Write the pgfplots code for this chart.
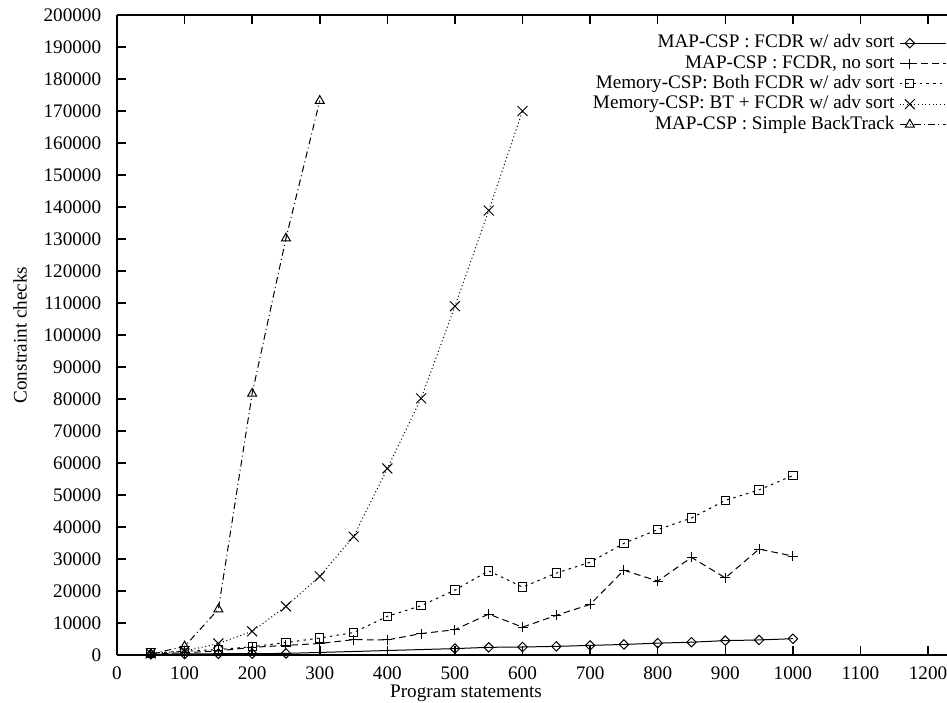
\documentclass[border=0pt]{standalone}
\usepackage{fontspec}
\setmainfont{Liberation Serif}
\usepackage{pgfplots}
\pgfplotsset{compat=1.18}
\begin{document}
\fontsize{11.5pt}{13pt}\selectfont
\begin{tikzpicture}
\begin{axis}[
  scale only axis, width=498pt, height=384pt,
  at={(0,0)}, anchor=south west,
  xmin=0, xmax=1228, ymin=0, ymax=200000,
  axis x line*=box, axis y line*=left,
  y axis line style={-},
  xtick={0,100,...,1200}, ytick={0,10000,...,200000},
  xtick pos=both, ytick pos=left,
  tick align=inside, major tick length=5.4pt,
  every tick/.style={black, line width=0.9pt},
  axis line style={line width=1pt},
  scaled y ticks=false, scaled x ticks=false,
  /pgf/number format/assume math mode=true,
  /pgf/number format/fixed, /pgf/number format/1000 sep={},
  tick label style={font=\fontsize{11.5pt}{13pt}\selectfont},
  yticklabel style={xshift=-5.5pt},
  xticklabel style={yshift=-2.8pt},
  xlabel={Program statements},
  ylabel={Constraint checks},
  xlabel style={at={(axis description cs:0.4205,0)}, anchor=base, yshift=-25.6pt, font=\fontsize{11.5pt}{13pt}\selectfont},
  ylabel style={at={(axis description cs:-0.1169,0.5)}, anchor=center, font=\fontsize{11.5pt}{13pt}\selectfont},
  legend style={draw=none, fill=none, at={(1,1)}, anchor=north east, yshift=-10.8pt,
    inner sep=0pt, outer sep=0pt, row sep=0pt, column sep=2.4pt,
    nodes={inner sep=0.5pt, text height=8.4pt, text depth=2.8pt},
    font=\fontsize{11.5pt}{13pt}\selectfont},
  legend cell align=right,
  legend plot pos=right,
  legend image code/.code={\draw[mark repeat=2, mark phase=2, #1] plot coordinates {(0pt,0pt) (6pt,0pt) (28pt,0pt)};},
]
\addplot[black, line width=0.6pt, mark=square, mark size=2pt, mark options={rotate=45, solid}]
coordinates {(50,200) (100,300) (150,400) (200,400) (250,500) (500,2000) (550,2400) (600,2500) (650,2700) (700,3000) (750,3300) (800,3700) (850,4000) (900,4500) (950,4700) (1000,5100)};
\addlegendentry{MAP-CSP : FCDR w/ adv sort}
\addplot[black, line width=0.6pt, dash pattern=on 4pt off 2.5pt, mark=+, mark size=3pt, mark options={solid}]
coordinates {(50,300) (100,700) (150,1300) (200,2400) (250,3000) (300,3600) (350,4800) (400,4700) (450,6700) (500,7900) (550,12800) (600,8700) (650,12400) (700,15800) (750,26500) (800,23100) (850,30500) (900,24100) (950,33100) (1000,30900)};
\addlegendentry{MAP-CSP : FCDR, no sort}
\addplot[black, line width=0.6pt, dash pattern=on 1.5pt off 2.5pt, mark=square, mark size=2.5pt, mark options={solid}]
coordinates {(50,600) (100,1200) (150,1700) (200,2600) (250,3900) (300,5300) (350,7000) (400,12100) (450,15400) (500,20300) (550,26300) (600,21200) (650,25600) (700,29000) (750,34900) (800,39200) (850,42800) (900,48300) (950,51600) (1000,56100)};
\addlegendentry{Memory-CSP: Both FCDR w/ adv sort}
\addplot[black, line width=0.6pt, dash pattern=on 0.6pt off 1.6pt, mark=x, mark size=4.2pt, mark options={solid}]
coordinates {(50,500) (100,1200) (150,3600) (200,7400) (250,15200) (300,24600) (350,37000) (400,58300) (450,80200) (500,109000) (550,138900) (600,170000)};
\addlegendentry{Memory-CSP: BT + FCDR w/ adv sort}
\addplot[black, line width=0.6pt, dash pattern=on 4pt off 2pt on 0.6pt off 2pt, mark=triangle, mark size=3.1pt, mark options={solid}]
coordinates {(50,300) (100,2700) (150,14300) (200,81700) (250,130200) (300,173200)};
\addlegendentry{MAP-CSP : Simple BackTrack}
\end{axis}
\pgfresetboundingbox
\useasboundingbox (-70.2pt,-28.2pt) rectangle (498pt,393pt);
\end{tikzpicture}
\end{document}
